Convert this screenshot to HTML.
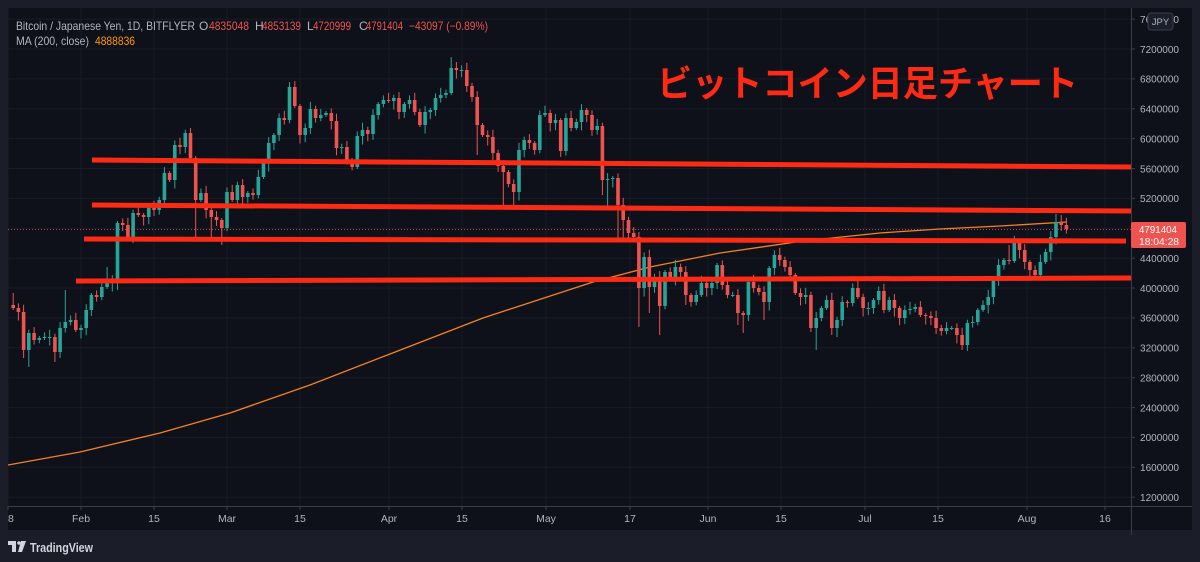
<!DOCTYPE html>
<html><head><meta charset="utf-8"><style>
html,body{margin:0;padding:0;background:#1b1e28;width:1200px;height:562px;overflow:hidden}
svg{display:block}
text{font-family:"Liberation Sans","Noto Sans CJK JP",sans-serif}
</style></head><body>
<svg id="s" xmlns="http://www.w3.org/2000/svg" width="1200" height="562" viewBox="0 0 1200 562">
<defs><clipPath id="cp"><rect x="8" y="8" width="1123" height="498"/></clipPath></defs>
<rect x="0" y="0" width="1200" height="562" fill="#1b1e28"/>
<rect x="8" y="8" width="1184" height="522" fill="#0e1119"/>
<g id="grid" stroke="#181c27" stroke-width="1"></g>
<g clip-path="url(#cp)">
<polyline fill="none" stroke="#f6821f" stroke-width="1.3" points="8,465 80,452 160,433 230,413 310,385 390,354 483,318 593,282 650,267 720,253 803,241 880,233 940,229 1000,226 1067,222"/>
<g id="c"></g>
<line x1="8" y1="229.5" x2="1131" y2="229.5" stroke="#ef5350" stroke-width="1" stroke-dasharray="1 2" opacity="0.8"/>
<g stroke="#ff2a14" stroke-width="5" stroke-linecap="butt">
<line x1="92" y1="160" x2="1131" y2="167"/>
<line x1="92" y1="205" x2="1131" y2="211"/>
<line x1="84" y1="239" x2="1126" y2="241"/>
<line x1="76" y1="281" x2="1131" y2="278"/>
</g>
</g>
<line x1="1131.5" y1="8" x2="1131.5" y2="535" stroke="#3a3e4a" stroke-width="1"/>
<line x1="8" y1="506.5" x2="1192" y2="506.5" stroke="#3a3e4a" stroke-width="1"/>
<g id="ax" font-size="10.5" fill="#b2b5be"></g>
<text x="657" y="96" font-size="36" font-weight="bold" fill="#ff2a14" textLength="421" lengthAdjust="spacingAndGlyphs" style="font-family:'Noto Sans CJK JP',sans-serif">ビットコイン日足チャート</text>
<g font-size="12" fill="#b2b5be">
<text x="16" y="30" textLength="179" lengthAdjust="spacingAndGlyphs">Bitcoin / Japanese Yen, 1D, BITFLYER</text>
<text x="199" y="30">O</text><text x="209" y="30" fill="#ef5350" textLength="40" lengthAdjust="spacingAndGlyphs">4835048</text>
<text x="255" y="30">H</text><text x="262" y="30" fill="#ef5350" textLength="39" lengthAdjust="spacingAndGlyphs">4853139</text>
<text x="307" y="30">L</text><text x="313" y="30" fill="#ef5350" textLength="38" lengthAdjust="spacingAndGlyphs">4720999</text>
<text x="359" y="30">C</text><text x="366" y="30" fill="#ef5350" textLength="37" lengthAdjust="spacingAndGlyphs">4791404</text>
<text x="409" y="30" fill="#ef5350" textLength="79" lengthAdjust="spacingAndGlyphs">−43097 (−0.89%)</text>
<text x="16" y="45" textLength="73" lengthAdjust="spacingAndGlyphs">MA (200, close)</text>
<text x="95" y="45" fill="#ff9800" textLength="40" lengthAdjust="spacingAndGlyphs">4888836</text>
</g>
<rect x="1148" y="13" width="25" height="17" rx="3" fill="#1b1f2b" stroke="#3a3e4a" stroke-width="1"/>
<text x="1160.5" y="25" font-size="9.5" fill="#b2b5be" text-anchor="middle">JPY</text>
<rect x="1131" y="222" width="55" height="26" rx="2" fill="#ef5350"/>
<text x="1139" y="233" font-size="10.5" fill="#ffffff" textLength="38" lengthAdjust="spacingAndGlyphs">4791404</text>
<text x="1139" y="245" font-size="10.5" fill="#ffffff" textLength="40" lengthAdjust="spacingAndGlyphs">18:04:28</text>
<g fill="#d1d4dc">
<path d="M8 541h8v11h-4v-7h-4z"/>
<circle cx="19" cy="543" r="1.8"/>
<path d="M21 541h5l-4 11h-4z"/>
</g>
<text x="30" y="552" font-size="12.5" font-weight="bold" fill="#d1d4dc" textLength="63" lengthAdjust="spacingAndGlyphs">TradingView</text>
</svg>
<script>
(function(){
var NS="http://www.w3.org/2000/svg";
function el(p,t,a,txt){var e=document.createElementNS(NS,t);for(var k in a)e.setAttribute(k,a[k]);if(txt!=null)e.textContent=txt;p.appendChild(e);return e;}
var grid=document.getElementById("grid"),ax=document.getElementById("ax"),cg=document.getElementById("c");
// price grid & labels
var prices=[7.6,7.2,6.8,6.4,6.0,5.6,5.2,4.8,4.4,4.0,3.6,3.2,2.8,2.4,2.0,1.6,1.2];
prices.forEach(function(p){
 var y=49+(7.2-p)*74.7;
 el(grid,"line",{x1:8,x2:1131,y1:y.toFixed(1),y2:y.toFixed(1)});
 el(ax,"line",{x1:1131,x2:1135,y1:y.toFixed(1),y2:y.toFixed(1),stroke:"#3a3e4a"});
 if(Math.abs(p-4.8)>0.01) el(ax,"text",{x:1140,y:(y+3.8).toFixed(1),textLength:39,lengthAdjust:"spacingAndGlyphs"},String(Math.round(p*1000000)));
});
// time grid & labels
var tl=[[8,"18"],[81,"Feb"],[154,"15"],[227,"Mar"],[300,"15"],[389,"Apr"],[462,"15"],[546,"May"],[630,"17"],[708,"Jun"],[781,"15"],[865,"Jul"],[938,"15"],[1027,"Aug"],[1105,"16"]];
tl.forEach(function(t){
 el(grid,"line",{x1:t[0],x2:t[0],y1:8,y2:506});
 el(ax,"line",{x1:t[0],x2:t[0],y1:506,y2:510,stroke:"#3a3e4a"});
});
var tg=el(ax,"g",{"clip-path":"url(#tc)"});
var defs=document.querySelector("defs");
var cp=el(defs,"clipPath",{id:"tc"});el(cp,"rect",{x:8,y:506,width:1184,height:24});
tl.forEach(function(t){el(tg,"text",{x:t[0],y:522,"text-anchor":"middle"},t[1]);});
// candles
var C=[308,312,350,333,340,338,337,337,352,328,
322,320,330,328,310,295,297,287,283,281,
223,225,237,213,215,217,208,210,200,173,
180,145,147,133,158,200,193,210,217,220,
228,192,200,185,197,193,195,177,163,143,
135,118,120,87,106,135,128,109,118,115,
113,121,148,147,160,167,136,130,134,115,
104,100,101,98,112,104,100,112,125,112,
110,98,95,93,68,70,70,86,97,125,
135,137,153,166,172,184,192,150,140,143,
150,115,113,123,120,151,118,128,122,110,
115,130,126,180,179,178,205,220,233,237,
288,257,287,277,306,272,277,267,272,295,
302,295,283,288,283,265,285,295,295,313,
315,282,288,292,302,268,255,260,267,275,
293,297,295,328,318,308,300,328,320,302,
303,288,297,308,308,300,291,310,300,308,
318,310,309,307,315,316,318,328,331,328,
328,335,345,323,322,310,305,297,280,265,
260,261,243,250,262,270,275,262,252,237,
222,225,229];
var ov={0:[293,null],2:[null,358],3:[null,367],8:[null,362],10:[290,null],18:[267,null],20:[null,290],22:[null,240],23:[null,243],34:[128,null],35:[null,240],38:[null,237],40:[null,245],53:[82,null],84:[57,null],85:[62,null],89:[null,155],94:[null,207],96:[null,207],113:[null,195],114:[null,207],116:[null,240],117:[null,242],120:[232,327],122:[null,313],124:[null,335],129:[null,305],139:[null,325],140:[null,333],144:[null,320],153:[null,332],154:[null,350],157:[null,335],158:[null,337],182:[null,350],191:[245,null],200:[214,null],201:[215,null]};
for(var i=0;i<C.length;i++){
 var x=13.2+5.214*i;
 var o=i?C[i-1]:305,c=C[i];
 var top=Math.min(o,c),bot=Math.max(o,c);
 var hi=top-(2+((i*7)%5)*1.3),lo=bot+(2+((i*11)%6)*1.3);
 if(ov[i]){if(ov[i][0]!=null)hi=ov[i][0];if(ov[i][1]!=null)lo=ov[i][1];}
 var col=(c<=o)?"#26a69a":"#ef5350";
 el(cg,"line",{x1:x.toFixed(1),x2:x.toFixed(1),y1:hi,y2:lo,stroke:col,"stroke-width":1});
 el(cg,"rect",{x:(x-1.8).toFixed(1),y:top,width:3.6,height:Math.max(1,bot-top),fill:col});
}
})();
</script>
</body></html>
